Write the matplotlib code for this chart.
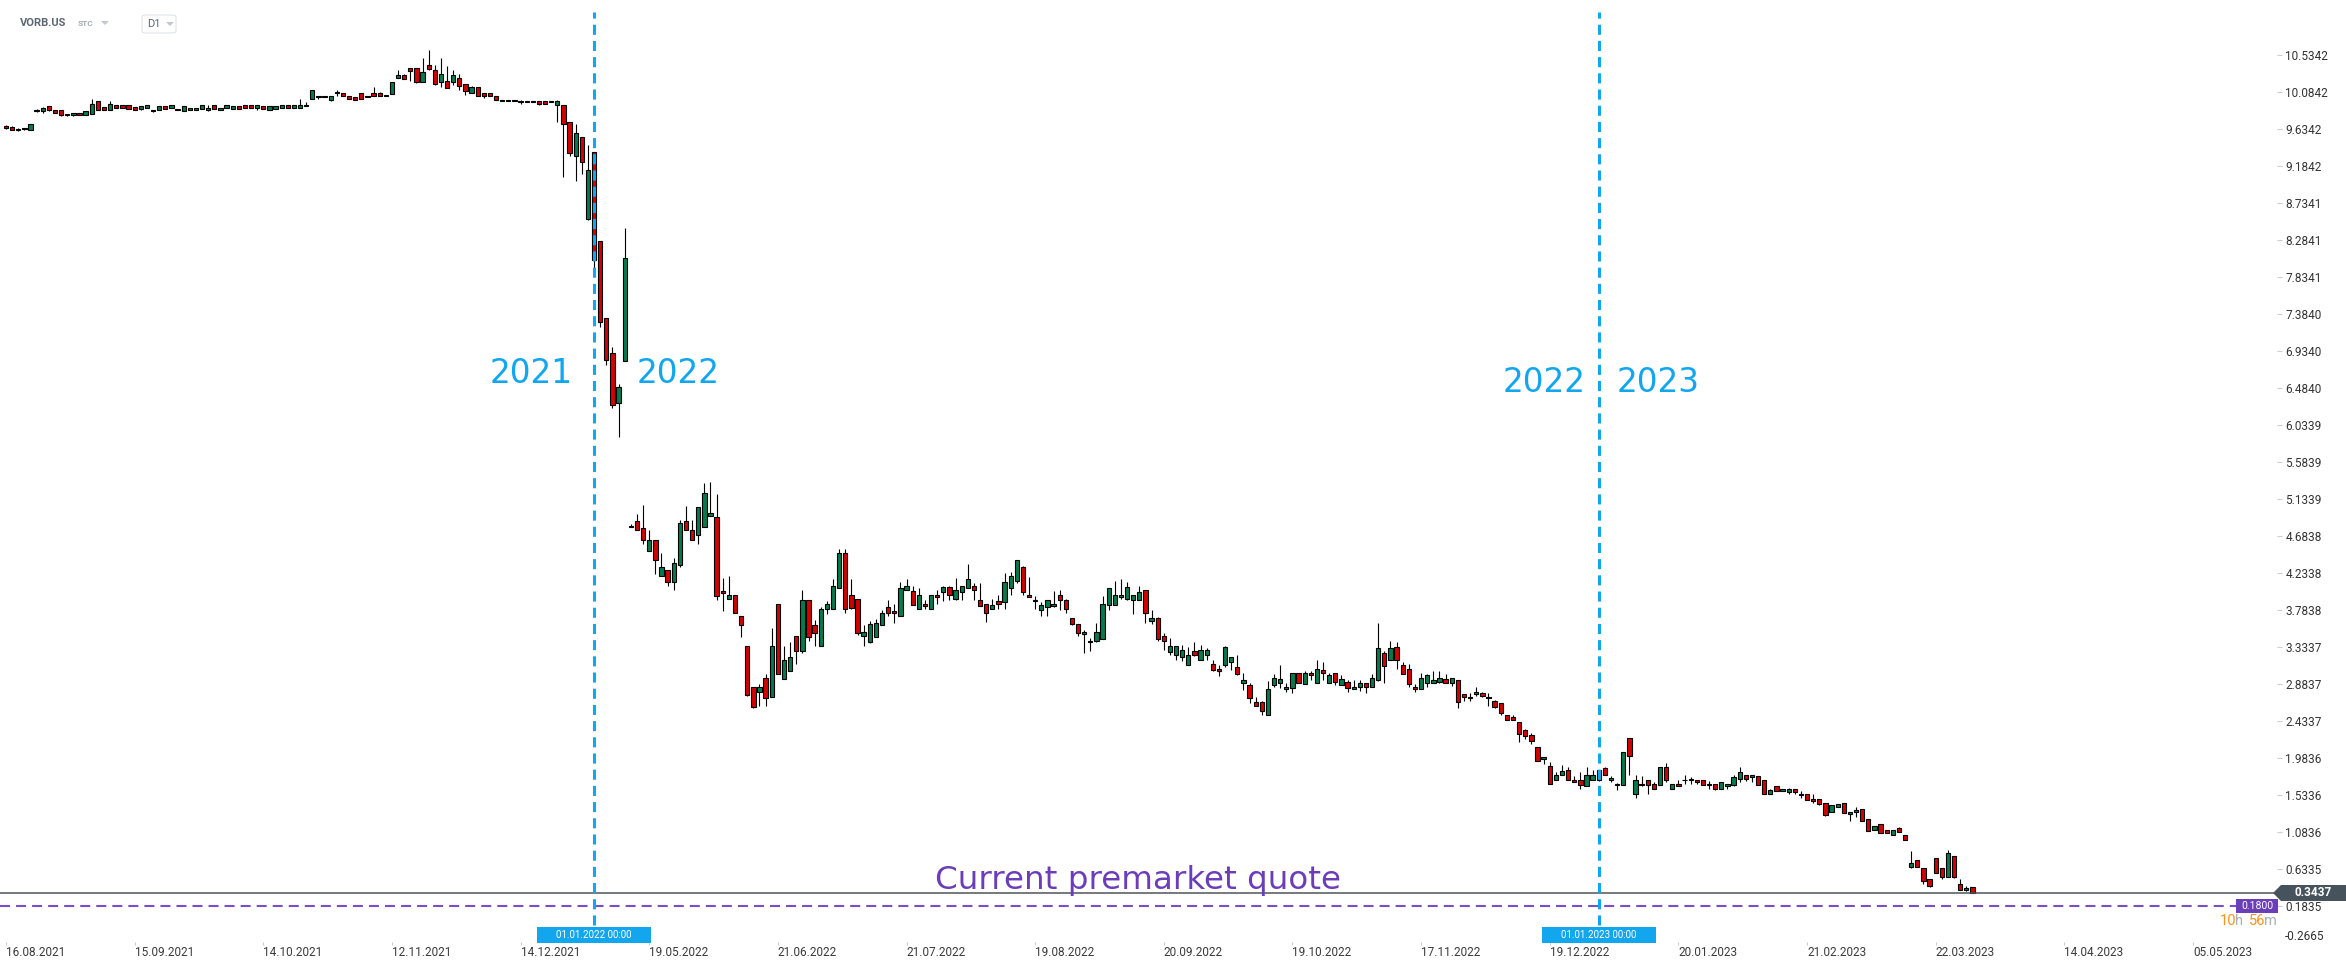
import numpy as np
import matplotlib.pyplot as plt
from matplotlib.patches import Polygon, Rectangle, FancyBboxPatch
from matplotlib.transforms import blended_transform_factory

# daily OHLC of VORB.US (one value per trading day)
opens = [
    9.67, 9.66, 9.62, 9.63, 9.62, 9.87, 9.85, 9.91, 9.86, 9.86,
    9.82, 9.80, 9.83, 9.80, 9.82, 9.97, 9.90, 9.86, 9.93, 9.92,
    9.92, 9.90, 9.88, 9.89, 9.87, 9.86, 9.91, 9.89, 9.88, 9.85,
    9.87, 9.86, 9.88, 9.86, 9.92, 9.87, 9.89, 9.88, 9.91, 9.93,
    9.92, 9.89, 9.91, 9.86, 9.88, 9.89, 9.92, 9.89, 9.89, 9.91,
    10.00, 10.04, 10.04, 9.99, 10.09, 10.07, 10.04, 10.02, 10.07, 10.02,
    10.07, 10.07, 10.05, 10.06, 10.25, 10.29, 10.37, 10.37, 10.20, 10.41,
    10.35, 10.20, 10.22, 10.20, 10.25, 10.18, 10.07, 10.15, 10.07, 10.07,
    10.04, 9.97, 9.99, 9.97, 9.98, 9.98, 9.98, 9.98, 9.98, 9.98,
    9.93, 9.93, 9.72, 9.31, 9.54, 8.54, 9.36, 8.27, 7.33, 6.91,
    6.30, 6.81, 4.79, 4.87, 4.78, 4.50, 4.63, 4.19, 4.27, 4.12,
    4.33, 4.86, 4.76, 4.70, 4.79, 4.92, 4.91, 4.01, 3.92, 3.96,
    3.71, 3.35, 2.84, 2.79, 2.95, 2.72, 3.85, 2.94, 3.04, 3.46,
    3.28, 3.91, 3.60, 3.35, 3.79, 3.80, 4.05, 4.48, 3.97, 3.92,
    3.46, 3.39, 3.45, 3.60, 3.82, 3.77, 3.71, 4.03, 4.01, 3.80,
    3.85, 3.79, 3.96, 4.00, 4.06, 3.92, 4.00, 4.05, 4.07, 3.91,
    3.85, 3.79, 3.89, 3.88, 4.05, 4.14, 4.30, 3.97, 3.91, 3.78,
    3.82, 3.83, 3.96, 3.91, 3.68, 3.61, 3.49, 3.41, 3.40, 3.43,
    3.84, 3.84, 3.94, 3.92, 3.90, 3.90, 4.02, 3.65, 3.68, 3.46,
    3.27, 3.23, 3.21, 3.11, 3.28, 3.17, 3.23, 3.13, 3.06, 3.11,
    3.15, 3.09, 2.89, 2.87, 2.66, 2.66, 2.51, 2.87, 2.89, 2.82,
    2.83, 3.01, 2.88, 3.01, 2.90, 3.05, 2.90, 3.01, 2.87, 2.91,
    2.82, 2.85, 2.89, 2.85, 2.93, 3.26, 3.17, 3.33, 3.11, 3.06,
    2.85, 2.82, 2.89, 2.89, 2.91, 2.94, 2.90, 2.93, 2.76, 2.73,
    2.76, 2.77, 2.73, 2.67, 2.65, 2.50, 2.48, 2.42, 2.32, 2.26,
    2.11, 1.97, 1.88, 1.71, 1.78, 1.83, 1.71, 1.72, 1.64, 1.72,
    1.71, 1.86, 1.71, 1.67, 1.65, 2.23, 1.54, 1.67, 1.71, 1.66,
    1.65, 1.87, 1.61, 1.66, 1.71, 1.71, 1.71, 1.72, 1.65, 1.66,
    1.60, 1.64, 1.65, 1.73, 1.77, 1.75, 1.76, 1.72, 1.54, 1.64,
    1.58, 1.57, 1.60, 1.55, 1.55, 1.48, 1.48, 1.43, 1.32, 1.38,
    1.43, 1.30, 1.32, 1.36, 1.24, 1.11, 1.18, 1.10, 1.05, 1.13,
    1.04, 0.66, 0.74, 0.64, 0.51, 0.76, 0.64, 0.53, 0.79, 0.45,
    0.37, 0.41,
]
highs = [
    9.68, 9.67, 9.65, 9.65, 9.69, 9.88, 9.90, 9.91, 9.86, 9.86,
    9.82, 9.83, 9.83, 9.85, 10.00, 9.98, 9.90, 9.97, 9.93, 9.92,
    9.92, 9.90, 9.91, 9.92, 9.87, 9.91, 9.91, 9.92, 9.88, 9.91,
    9.89, 9.89, 9.92, 9.92, 9.92, 9.89, 9.93, 9.91, 9.91, 9.93,
    9.92, 9.92, 9.91, 9.91, 9.91, 9.92, 9.92, 9.92, 10.00, 9.96,
    10.11, 10.04, 10.04, 10.04, 10.11, 10.07, 10.04, 10.02, 10.07, 10.04,
    10.14, 10.09, 10.05, 10.21, 10.35, 10.30, 10.37, 10.37, 10.50, 10.60,
    10.41, 10.50, 10.40, 10.35, 10.30, 10.18, 10.16, 10.15, 10.07, 10.07,
    10.04, 9.99, 9.99, 9.99, 9.99, 9.98, 9.98, 9.98, 9.98, 9.98,
    9.99, 9.93, 9.72, 9.70, 9.54, 9.44, 9.36, 8.27, 7.33, 6.98,
    6.53, 8.43, 4.83, 4.95, 5.06, 4.76, 4.63, 4.47, 4.27, 4.41,
    4.88, 5.05, 4.88, 5.03, 5.33, 5.34, 5.19, 4.17, 4.19, 3.96,
    3.71, 3.35, 2.84, 2.88, 3.00, 3.56, 3.85, 3.35, 3.39, 3.46,
    4.02, 3.91, 3.66, 3.82, 3.89, 4.16, 4.53, 4.52, 4.16, 3.92,
    3.60, 3.65, 3.67, 3.78, 3.91, 3.85, 4.12, 4.16, 4.07, 4.05,
    3.91, 3.96, 4.02, 4.07, 4.07, 4.17, 4.08, 4.34, 4.11, 4.11,
    3.85, 3.92, 3.97, 4.23, 4.24, 4.39, 4.32, 4.18, 3.95, 3.88,
    3.90, 4.01, 4.03, 3.92, 3.68, 3.61, 3.54, 3.44, 3.63, 3.95,
    4.05, 4.13, 4.16, 4.12, 3.96, 4.08, 4.02, 3.78, 3.70, 3.50,
    3.44, 3.35, 3.36, 3.33, 3.39, 3.36, 3.32, 3.18, 3.11, 3.35,
    3.21, 3.24, 3.01, 2.89, 2.73, 2.67, 2.92, 3.00, 3.11, 2.89,
    3.01, 3.02, 3.04, 3.04, 3.17, 3.15, 3.01, 3.01, 2.99, 2.93,
    2.93, 2.93, 2.90, 3.00, 3.62, 3.28, 3.41, 3.39, 3.15, 3.12,
    2.88, 3.01, 3.00, 3.04, 3.04, 3.00, 2.96, 2.93, 2.76, 2.77,
    2.85, 2.79, 2.77, 2.69, 2.65, 2.50, 2.50, 2.42, 2.34, 2.29,
    2.11, 2.00, 1.93, 1.81, 1.90, 1.87, 1.76, 1.81, 1.87, 1.83,
    1.83, 1.87, 1.76, 1.68, 2.05, 2.23, 1.77, 1.76, 1.71, 1.69,
    1.87, 1.92, 1.67, 1.71, 1.77, 1.75, 1.71, 1.72, 1.70, 1.66,
    1.69, 1.66, 1.77, 1.87, 1.77, 1.77, 1.76, 1.72, 1.60, 1.64,
    1.61, 1.62, 1.60, 1.58, 1.55, 1.55, 1.48, 1.43, 1.41, 1.42,
    1.43, 1.33, 1.38, 1.36, 1.24, 1.15, 1.18, 1.10, 1.10, 1.14,
    1.05, 0.85, 0.74, 0.64, 0.51, 0.76, 0.64, 0.86, 0.79, 0.51,
    0.42, 0.41,
]
lows = [
    9.64, 9.62, 9.61, 9.62, 9.62, 9.84, 9.83, 9.85, 9.83, 9.79,
    9.79, 9.79, 9.81, 9.80, 9.82, 9.87, 9.87, 9.86, 9.89, 9.89,
    9.88, 9.86, 9.87, 9.89, 9.84, 9.86, 9.88, 9.89, 9.86, 9.85,
    9.87, 9.86, 9.88, 9.85, 9.88, 9.87, 9.89, 9.88, 9.88, 9.89,
    9.89, 9.86, 9.88, 9.86, 9.88, 9.89, 9.89, 9.89, 9.89, 9.91,
    10.00, 10.00, 10.02, 9.98, 10.04, 10.03, 10.00, 9.99, 10.00, 10.02,
    10.03, 10.03, 10.03, 10.06, 10.25, 10.24, 10.22, 10.19, 10.20, 10.35,
    10.17, 10.15, 10.13, 10.17, 10.11, 10.05, 10.07, 10.04, 10.01, 10.03,
    9.99, 9.97, 9.97, 9.97, 9.94, 9.96, 9.96, 9.93, 9.94, 9.96,
    9.72, 9.05, 9.30, 9.00, 9.09, 8.53, 7.90, 7.23, 6.76, 6.24,
    5.89, 6.81, 4.79, 4.75, 4.59, 4.50, 4.22, 4.19, 4.08, 4.02,
    4.30, 4.75, 4.63, 4.58, 4.79, 4.92, 3.90, 3.77, 3.92, 3.74,
    3.45, 2.74, 2.59, 2.62, 2.61, 2.72, 3.00, 2.94, 3.04, 3.12,
    3.26, 3.41, 3.35, 3.35, 3.73, 3.80, 4.05, 3.74, 3.80, 3.48,
    3.35, 3.38, 3.45, 3.60, 3.71, 3.63, 3.71, 4.02, 3.84, 3.80,
    3.79, 3.79, 3.85, 3.89, 3.91, 3.91, 3.91, 4.05, 3.90, 3.83,
    3.64, 3.79, 3.79, 3.80, 3.96, 4.11, 3.96, 3.94, 3.80, 3.71,
    3.71, 3.82, 3.78, 3.75, 3.60, 3.46, 3.26, 3.28, 3.39, 3.43,
    3.78, 3.84, 3.92, 3.91, 3.73, 3.90, 3.63, 3.61, 3.40, 3.30,
    3.24, 3.18, 3.16, 3.11, 3.22, 3.17, 3.18, 3.04, 2.98, 3.09,
    3.05, 2.99, 2.81, 2.65, 2.61, 2.50, 2.50, 2.84, 2.83, 2.79,
    2.77, 2.89, 2.88, 2.93, 2.90, 2.93, 2.90, 2.87, 2.87, 2.79,
    2.82, 2.80, 2.77, 2.85, 2.92, 2.90, 3.17, 3.07, 3.00, 2.85,
    2.79, 2.82, 2.84, 2.89, 2.89, 2.90, 2.86, 2.59, 2.68, 2.67,
    2.74, 2.72, 2.61, 2.59, 2.50, 2.44, 2.45, 2.18, 2.21, 2.15,
    1.95, 1.91, 1.67, 1.71, 1.78, 1.72, 1.69, 1.60, 1.64, 1.72,
    1.70, 1.77, 1.69, 1.59, 1.65, 1.78, 1.50, 1.64, 1.55, 1.60,
    1.65, 1.69, 1.61, 1.64, 1.66, 1.67, 1.66, 1.65, 1.61, 1.59,
    1.60, 1.60, 1.64, 1.69, 1.70, 1.69, 1.65, 1.54, 1.54, 1.58,
    1.58, 1.55, 1.54, 1.50, 1.47, 1.43, 1.41, 1.28, 1.32, 1.38,
    1.31, 1.22, 1.27, 1.21, 1.09, 1.10, 1.07, 1.07, 1.05, 1.08,
    0.98, 0.64, 0.65, 0.45, 0.41, 0.58, 0.51, 0.53, 0.52, 0.37,
    0.36, 0.34,
]
closes = [
    9.65, 9.62, 9.64, 9.65, 9.69, 9.85, 9.89, 9.86, 9.83, 9.80,
    9.80, 9.83, 9.81, 9.85, 9.94, 9.87, 9.87, 9.94, 9.89, 9.89,
    9.88, 9.86, 9.91, 9.92, 9.85, 9.91, 9.88, 9.92, 9.86, 9.91,
    9.89, 9.89, 9.92, 9.89, 9.88, 9.89, 9.93, 9.91, 9.88, 9.89,
    9.89, 9.92, 9.88, 9.91, 9.91, 9.92, 9.89, 9.92, 9.92, 9.93,
    10.11, 10.02, 10.02, 10.04, 10.07, 10.03, 10.00, 9.99, 10.00, 10.04,
    10.03, 10.03, 10.03, 10.20, 10.29, 10.24, 10.34, 10.20, 10.33, 10.36,
    10.18, 10.30, 10.13, 10.29, 10.16, 10.10, 10.15, 10.04, 10.04, 10.03,
    9.99, 9.99, 9.97, 9.99, 9.96, 9.96, 9.96, 9.94, 9.94, 9.96,
    9.98, 9.69, 9.34, 9.58, 9.23, 9.14, 8.04, 7.29, 6.82, 6.28,
    6.49, 8.07, 4.81, 4.75, 4.63, 4.63, 4.39, 4.30, 4.12, 4.36,
    4.84, 4.76, 4.63, 5.03, 5.21, 4.96, 3.95, 3.99, 3.97, 3.75,
    3.60, 2.75, 2.60, 2.84, 2.71, 3.34, 3.00, 3.18, 3.21, 3.28,
    3.91, 3.45, 3.50, 3.80, 3.85, 4.08, 4.47, 3.79, 3.81, 3.50,
    3.51, 3.61, 3.63, 3.75, 3.74, 3.74, 4.05, 4.08, 3.84, 3.96,
    3.83, 3.96, 3.94, 4.06, 3.97, 4.02, 4.08, 4.16, 4.03, 3.83,
    3.74, 3.84, 3.85, 4.12, 4.20, 4.39, 4.00, 3.94, 3.89, 3.84,
    3.90, 3.85, 3.90, 3.79, 3.61, 3.50, 3.51, 3.39, 3.51, 3.85,
    4.05, 3.96, 3.96, 4.06, 3.96, 4.00, 3.74, 3.68, 3.43, 3.41,
    3.35, 3.35, 3.30, 3.23, 3.23, 3.30, 3.30, 3.05, 3.04, 3.33,
    3.21, 3.00, 2.93, 2.71, 2.62, 2.55, 2.82, 2.96, 2.94, 2.84,
    3.01, 2.89, 3.01, 2.99, 3.07, 3.01, 2.99, 2.91, 2.94, 2.83,
    2.84, 2.90, 2.85, 2.96, 3.32, 3.10, 3.32, 3.17, 3.00, 2.88,
    2.82, 2.96, 2.99, 2.93, 2.95, 2.90, 2.96, 2.66, 2.73, 2.71,
    2.78, 2.74, 2.71, 2.60, 2.53, 2.44, 2.45, 2.27, 2.25, 2.19,
    1.95, 2.00, 1.67, 1.78, 1.82, 1.72, 1.69, 1.65, 1.77, 1.77,
    1.83, 1.78, 1.74, 1.65, 2.05, 2.01, 1.71, 1.65, 1.65, 1.61,
    1.87, 1.71, 1.67, 1.64, 1.72, 1.73, 1.69, 1.65, 1.67, 1.61,
    1.69, 1.66, 1.75, 1.81, 1.73, 1.77, 1.65, 1.54, 1.59, 1.58,
    1.60, 1.60, 1.57, 1.53, 1.47, 1.46, 1.42, 1.29, 1.41, 1.42,
    1.31, 1.32, 1.35, 1.21, 1.09, 1.15, 1.07, 1.07, 1.10, 1.08,
    0.99, 0.70, 0.65, 0.48, 0.42, 0.58, 0.53, 0.83, 0.53, 0.37,
    0.40, 0.3437,
]
premarket = 0.18

# first bar of each new year and the labels either side of the marker
year_starts = [96, 260]
year_left = ["2021", "2022"]
year_right = ["2022", "2023"]
year_boxes = ["01.01.2022 00:00", "01.01.2023 00:00"]

# x axis labels, one every 21 bars
date_ticks = ["16.08.2021", "15.09.2021", "14.10.2021", "12.11.2021", "14.12.2021",
              "19.05.2022", "21.06.2022", "21.07.2022", "19.08.2022", "20.09.2022",
              "19.10.2022", "17.11.2022", "19.12.2022", "20.01.2023", "21.02.2023",
              "22.03.2023", "14.04.2023", "05.05.2023"]
price_ticks = ["10.5342", "10.0842", "9.6342", "9.1842", "8.7341", "8.2841", "7.8341",
               "7.3840", "6.9340", "6.4840", "6.0339", "5.5839", "5.1339", "4.6838",
               "4.2338", "3.7838", "3.3337", "2.8837", "2.4337", "1.9836", "1.5336",
               "1.0836", "0.6335", "0.1835", "-0.2665"]

W, H = 2346, 968
plt.rcParams['font.family'] = ['Roboto', 'DejaVu Sans']

BLUE = '#12a6ee'
PURPLE = '#6b3db9'
GREEN = '#047a4e'
RED = '#d30000'


def fx(px):
    return px / W


def fy(py):
    return 1 - py / H


fig = plt.figure(figsize=(W / 100, H / 100), dpi=100)
fig.patch.set_facecolor('white')
ax_right = 2277
ax = fig.add_axes([0, 0, ax_right / W, 1])

bar_px = 6.126     # pixels per bar
unit_px = 82.2     # pixels per price unit
ax.set_xlim(-6 / bar_px, (ax_right - 6) / bar_px)
top = float(price_ticks[0]) + 55 / unit_px
ax.set_ylim(top - H / unit_px, top)

o = np.array(opens)
h = np.array(highs)
l = np.array(lows)
c = np.array(closes)
x = np.arange(len(c))
up = c >= o
cols = np.where(up, GREEN, RED)

ax.vlines(x, l, h, color='black', lw=0.8, zorder=2)
ax.bar(x, np.abs(c - o), bottom=np.minimum(o, c), width=0.7, color=cols,
       edgecolor='black', linewidth=0.8, zorder=3)

# axes styling
for s in ax.spines.values():
    s.set_visible(False)
ax.spines['bottom'].set_position(('axes', 1 - 942 / H))
ax.set_xticks(np.arange(len(date_ticks)) * 21, date_ticks, ha='left')
ax.tick_params(axis='x', direction='out', length=2.2, width=0.8, color='#c9cfd4',
               pad=0.6, labelsize=8.5, labelcolor='#3a3a3a')
ax.yaxis.tick_right()
ax.set_yticks([float(v) for v in price_ticks[:-1]], price_ticks[:-1])
ax.tick_params(axis='y', direction='out', length=3.6, width=0.8, color='#c9cfd4',
               pad=2.5, labelsize=8.5, labelcolor='#333333')
fig.text(fx(2285), fy(937), price_ticks[-1], fontsize=8.5, color='#333333',
         va='center', ha='left')

# current / premarket levels
ax.axhline(c[-1], xmin=0, xmax=2274 / ax_right, color='#4e555b', lw=1.1, zorder=4)
ax.axhline(premarket, xmin=0, xmax=2236 / ax_right, color='#7750c6', lw=1.5,
           ls=(0, (4.8, 2.9)), zorder=4)

# year separators
mix = blended_transform_factory(ax.transData, fig.transFigure)
half_box = 57 / bar_px
for i, lab in zip(year_starts, year_boxes):
    ax.axvline(i, ymin=fy(925), ymax=fy(12), color=BLUE, lw=2.2,
               ls=(0, (3.3, 2.0)), zorder=5)
    fig.add_artist(Rectangle((i - half_box, fy(943)), 2 * half_box, 16 / H,
                             transform=mix, facecolor=BLUE, edgecolor='none'))
    fig.text(i, fy(935.5), lab, transform=mix, ha='center', va='center',
             fontsize=7, color='white')

for xp, yp, s in [(531, 383, year_left[0]), (678, 383, year_right[0]),
                  (1544, 392, year_left[1]), (1658, 392, year_right[1])]:
    fig.text(fx(xp), fy(yp), s, ha='center', va='baseline', fontsize=23.5,
             color=BLUE, family='DejaVu Sans')

fig.text(fx(1138), fy(889), 'Current premarket quote', ha='center', va='baseline',
         fontsize=23.4, color=PURPLE, family='DejaVu Sans')

# price badges on the right
pts = [(2273, 893), (2281, 885), (2346, 885), (2346, 901), (2281, 901)]
fig.add_artist(Polygon([(fx(a), fy(b)) for a, b in pts], closed=True,
                       transform=fig.transFigure, facecolor='#46535c', edgecolor='none'))
fig.text(fx(2313), fy(893), f"{c[-1]:.4f}", ha='center', va='center', fontsize=8.5,
         color='white', weight='bold')
fig.add_artist(Rectangle((fx(2236), fy(913)), 42 / W, 14 / H, transform=fig.transFigure,
                         facecolor='#6a3eb8', edgecolor='none'))
fig.text(fx(2257), fy(906), f"{premarket:.4f}", ha='center', va='center', fontsize=7.5,
         color='white')

# countdown
xp = 2220
for s, col in [("10", '#f7931e'), ("h", '#a9b0b5'), ("56", '#f7931e'), ("m", '#a9b0b5')]:
    fig.text(fx(xp), fy(921), s, ha='left', va='center', fontsize=10.5, color=col)
    xp += 15.5 if len(s) == 2 else (13 if s == 'h' else 9)

# header
fig.text(fx(20), fy(23), 'VORB.US', fontsize=8, weight='bold', color='#5c6670', va='center')
fig.text(fx(78), fy(24), 'STC', fontsize=6, weight='bold', color='#a3adb4', va='center')
fig.add_artist(Polygon([(fx(101), fy(21)), (fx(109), fy(21)), (fx(105), fy(25))],
                       transform=fig.transFigure, facecolor='#c3c9ce', edgecolor='none'))
fig.add_artist(FancyBboxPatch((fx(142), fy(33)), 34 / W, 18 / H,
                              boxstyle='round,pad=0,rounding_size=0.002',
                              transform=fig.transFigure, facecolor='white',
                              edgecolor='#dfe3e6', lw=0.8))
fig.text(fx(147), fy(24), 'D1', fontsize=8, color='#5c6670', va='center')
fig.add_artist(Polygon([(fx(166), fy(22)), (fx(174), fy(22)), (fx(170), fy(26))],
                       transform=fig.transFigure, facecolor='#c3c9ce', edgecolor='none'))

fig.savefig('out.png', dpi=100, facecolor='white')
